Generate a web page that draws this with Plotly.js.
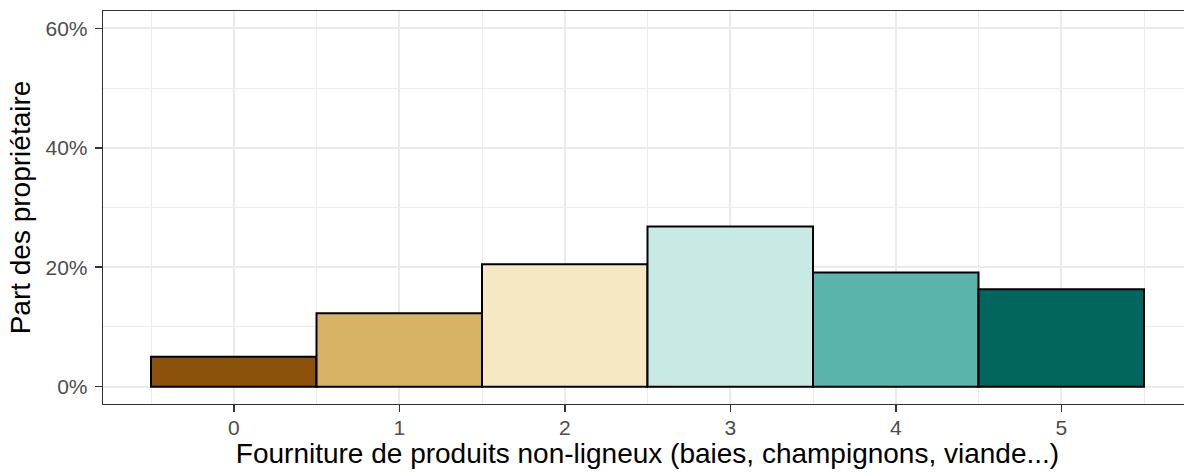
<!DOCTYPE html>
<html>
<head>
<meta charset="utf-8">
<script src="https://cdn.plot.ly/plotly-3.0.1.min.js"></script>
<style>
html, body { margin: 0; padding: 0; overflow: hidden; background: #fff; }
#chart { width: 1192px; height: 473px; }
</style>
</head>
<body>
<div id="chart"></div>
<script>
// Data
const categories = [0, 1, 2, 3, 4, 5];
const shares = [0.050, 0.123, 0.205, 0.268, 0.191, 0.163];
const barColors = ['#8C510A', '#D8B365', '#F6E8C3', '#C7EAE5', '#5AB4AC', '#01665E'];
const yTickVals = [0, 0.2, 0.4, 0.6];
const yTickText = ['0%', '20%', '40%', '60%'];
const xTitle = 'Fourniture de produits non-ligneux (baies, champignons, viande...)';
const yTitle = 'Part des propriétaire';

const trace = {
  type: 'bar',
  x: categories,
  y: shares,
  width: 1,
  marker: { color: barColors, line: { color: '#000000', width: 2 } },
  hoverinfo: 'x+y'
};

const tickFont = { family: 'Liberation Sans, Arial, sans-serif', size: 21, color: '#4d4d4d' };
const titleFont = { family: 'Liberation Sans, Arial, sans-serif', size: 28, color: '#000000' };

const layout = {
  width: 1192,
  height: 473,
  margin: { l: 103, r: 0, t: 11, b: 69, pad: 0 },
  paper_bgcolor: '#ffffff',
  plot_bgcolor: '#ffffff',
  showlegend: false,
  bargap: 0,
  xaxis: {
    range: [-0.79, 5.79],
    tickmode: 'array',
    tickvals: categories,
    ticktext: categories.map(String),
    tickfont: tickFont,
    ticks: 'outside',
    ticklen: 7,
    tickwidth: 1.5,
    tickcolor: '#333333',
    ticklabelstandoff: -3,
    showgrid: true,
    gridcolor: '#ebebeb',
    gridwidth: 2,
    minor: { tick0: 0.5, dtick: 1, showgrid: true, gridcolor: '#ebebeb', gridwidth: 1, ticks: '' },
    showline: true,
    linecolor: '#333333',
    linewidth: 1.3,
    mirror: true,
    zeroline: false,
    title: { text: xTitle, font: titleFont, standoff: 5 }
  },
  yaxis: {
    range: [-0.029, 0.629],
    tickmode: 'array',
    tickvals: yTickVals,
    ticktext: yTickText,
    tickfont: tickFont,
    ticks: 'outside',
    ticklen: 7,
    tickwidth: 1.5,
    tickcolor: '#333333',
    ticklabelstandoff: 3,
    showgrid: true,
    gridcolor: '#ebebeb',
    gridwidth: 2,
    minor: { tick0: 0, dtick: 0.1, showgrid: true, gridcolor: '#ebebeb', gridwidth: 1, ticks: '' },
    showline: true,
    linecolor: '#333333',
    linewidth: 1.3,
    mirror: false,
    zeroline: false,
    title: { text: yTitle, font: titleFont, standoff: 6 }
  }
};

Plotly.newPlot('chart', [trace], layout, { displayModeBar: false, staticPlot: true });
</script>
</body>
</html>
